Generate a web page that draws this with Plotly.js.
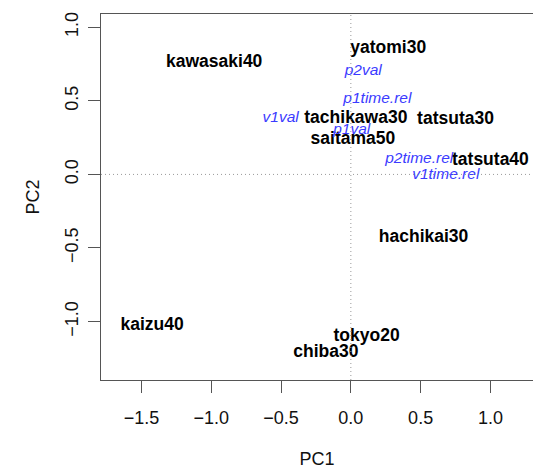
<!DOCTYPE html>
<html>
<head>
<meta charset="utf-8">
<script src="https://cdn.plot.ly/plotly-3.0.1.min.js"></script>
<style>html,body{margin:0;padding:0;background:#fff;}#chart{width:533px;height:471px;}</style>
</head>
<body>
<div id="chart"></div>
<script>
// Observation scores (black bold labels)
var obsNames = ["yatomi30","kawasaki40","tachikawa30","tatsuta30","saitama50","tatsuta40","hachikai30","kaizu40","tokyo20","chiba30"];
var obsPC1   = [0.268, -0.979, 0.036, 0.750, 0.015, 1.000, 0.521, -1.424, 0.113, -0.179];
var obsPC2   = [0.857, 0.762, 0.381, 0.374, 0.238, 0.093, -0.429, -1.025, -1.105, -1.209];

// Variable loadings (blue italic labels)
var varNames = ["p2val","p1time.rel","v1val","p1val","p2time.rel","v1time.rel"];
var varPC1   = [0.089, 0.190, -0.503, 0.006, 0.490, 0.680];
var varPC2   = [0.703, 0.510, 0.381, 0.301, 0.102, -0.005];

// Axis ticks
var xTicks = [-1.5, -1.0, -0.5, 0.0, 0.5, 1.0];
var xTickText = ["\u22121.5", "\u22121.0", "\u22120.5", "0.0", "0.5", "1.0"];
var yTicks = [-1.0, -0.5, 0.0, 0.5, 1.0];
var yTickText = ["\u22121.0", "\u22120.5", "0.0", "0.5", "1.0"];

var FONT = "Liberation Sans, Arial, Helvetica, sans-serif";

var traces = [
  {
    x: obsPC1, y: obsPC2, text: obsNames,
    mode: "text", type: "scatter", textposition: "middle center",
    textfont: {family: FONT, size: 17.5, color: "#000", weight: "bold"},
    hoverinfo: "none", showlegend: false, cliponaxis: false
  },
  {
    x: varPC1, y: varPC2, text: varNames,
    mode: "text", type: "scatter", textposition: "middle center",
    textfont: {family: FONT, size: 15.5, color: "#3b3bff", style: "italic"},
    hoverinfo: "none", showlegend: false, cliponaxis: false
  }
];

var axisCommon = {
  showgrid: false, zeroline: false,
  showline: true, mirror: true, linecolor: "#555", linewidth: 1,
  ticks: "outside", ticklen: 12, tickcolor: "#555", tickwidth: 1,
  tickfont: {family: FONT, size: 18, color: "#111"},
  tickmode: "array"
};

var layout = {
  width: 533, height: 471,
  margin: {l: 101, r: 0, t: 14, b: 91, pad: 0},
  paper_bgcolor: "#fff", plot_bgcolor: "#fff",
  xaxis: Object.assign({}, axisCommon, {
    range: [-1.79, 1.305], tickvals: xTicks, ticktext: xTickText,
    ticklabelstandoff: 9,
    title: {text: "PC1", font: {family: FONT, size: 18, color: "#111"}, standoff: 25},
    automargin: false
  }),
  yaxis: Object.assign({}, axisCommon, {
    range: [-1.397, 1.09], tickvals: yTicks, ticktext: yTickText,
    tickangle: -90, ticklabelstandoff: 3,
    title: {text: "PC2", font: {family: FONT, size: 18, color: "#111"}, standoff: 17},
    automargin: false
  }),
  shapes: [
    {type: "line", xref: "x", yref: "paper", x0: 0, x1: 0, y0: 0, y1: 1,
     line: {color: "#999", width: 1, dash: "1px,3px"}},
    {type: "line", xref: "paper", yref: "y", x0: 0, x1: 1, y0: 0, y1: 0,
     line: {color: "#999", width: 1, dash: "1px,3px"}}
  ]
};

Plotly.newPlot("chart", traces, layout, {displayModeBar: false, staticPlot: true});
</script>
</body>
</html>
